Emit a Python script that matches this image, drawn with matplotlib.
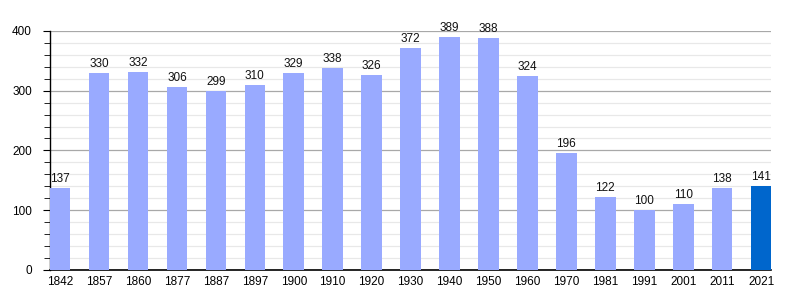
import matplotlib
matplotlib.use("Agg")
import matplotlib.pyplot as plt
from matplotlib.ticker import MultipleLocator

plt.rcParams["font.family"] = ["Liberation Sans", "DejaVu Sans"]

years = ["1842", "1857", "1860", "1877", "1887", "1897", "1900", "1910", "1920",
         "1930", "1940", "1950", "1960", "1970", "1981", "1991", "2001", "2011", "2021"]
population = [137, 330, 332, 306, 299, 310, 329, 338, 326,
              372, 389, 388, 324, 196, 122, 100, 110, 138, 141]

colors = ["#99aaff"] * (len(years) - 1) + ["#0066cc"]

fig = plt.figure(figsize=(8, 3), dpi=100)
ax = fig.add_axes([0.0625, 0.1, 0.9015, 0.797])

x = range(len(years))
ax.bar(x, population, width=0.53, color=colors, zorder=3)

# value labels above each bar
for xi, v in zip(x, population):
    ax.text(xi, v + 5, str(v), ha="center", va="bottom", fontsize=8.5, color="#111111")

ax.set_ylim(0, 400)
ax.set_xlim(-0.26, len(years) - 0.74)
ax.yaxis.set_major_locator(MultipleLocator(100))
ax.yaxis.set_minor_locator(MultipleLocator(20))
ax.grid(axis="y", which="major", color="#a8a8a8", linewidth=0.9, zorder=0)
ax.grid(axis="y", which="minor", color="#e8e8e8", linewidth=0.9, zorder=0)

ax.set_xticks(list(x))
ax.set_xticklabels(years, fontsize=8.5)
ax.tick_params(axis="x", length=0, pad=4)
ax.tick_params(axis="y", which="major", length=5, labelsize=8.5, pad=8)
ax.tick_params(axis="y", which="minor", length=4)

for s in ["top", "right"]:
    ax.spines[s].set_visible(False)
ax.spines["left"].set_linewidth(1.0)
ax.spines["bottom"].set_linewidth(1.2)

fig.savefig("out.png", dpi=100)
